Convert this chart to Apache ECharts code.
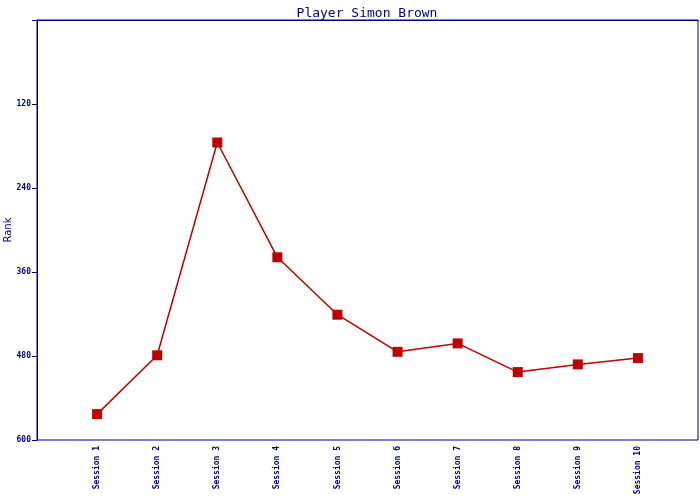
<!DOCTYPE html>
<html><head><meta charset="utf-8">
<script src="https://cdn.jsdelivr.net/npm/echarts@6/dist/echarts.min.js"></script>
<style>html,body{margin:0;padding:0;background:#fff}#c{width:700px;height:500px}</style>
</head><body><div id="c"></div>
<script>
const categories = ['Session 1','Session 2','Session 3','Session 4','Session 5','Session 6','Session 7','Session 8','Session 9','Session 10'];
const rankValues = [563, 479, 175, 339, 421, 474, 462, 503, 492, 483];
const yTicks = [0, 120, 240, 360, 480, 600];
const NAVY = '#000080';
const chart = echarts.init(document.getElementById('c'));
chart.setOption({
  animation: false,
  title: {
    text: 'Player Simon Brown', left: 362, top: 2, textAlign: 'center',
    textStyle: {fontFamily: 'DejaVu Sans Mono', fontSize: 13, fontWeight: 'normal', color: NAVY}
  },
  grid: {left: 37, right: 2, top: 20, bottom: 60, show: true, borderColor: NAVY, borderWidth: 1,
    containLabel: false, outerBoundsMode: 'none'},
  xAxis: {
    type: 'category', boundaryGap: false,
    data: [''].concat(categories, ['']),
    axisLine: {lineStyle: {color: NAVY}},
    axisTick: {show: false},
    splitLine: {show: false},
    axisLabel: {rotate: 90, interval: 0, margin: 6, color: NAVY, fontFamily: 'DejaVu Sans Mono', fontSize: 8, fontWeight: 'bold'}
  },
  yAxis: {
    type: 'value', inverse: true, min: yTicks[0], max: yTicks[yTicks.length-1], interval: 120,
    name: 'Rank', nameLocation: 'middle', nameGap: 24, nameRotate: 90, nameMoveOverlap: false,
    nameTextStyle: {color: NAVY, fontFamily: 'DejaVu Sans', fontSize: 10},
    axisLine: {show: true, lineStyle: {color: NAVY}},
    axisTick: {show: true, length: 5, lineStyle: {color: NAVY, width: 1}},
    splitLine: {show: false},
    axisLabel: {color: NAVY, fontFamily: 'DejaVu Sans Mono', fontSize: 8, fontWeight: 'bold', margin: 6,
      formatter: v => v === 0 ? '' : String(v)}
  },
  series: [{
    type: 'line',
    data: [null].concat(rankValues, [null]),
    symbol: 'rect', symbolSize: 10,
    lineStyle: {color: '#c00000', width: 1.5},
    itemStyle: {color: '#c00000'}
  }]
});
</script></body></html>
